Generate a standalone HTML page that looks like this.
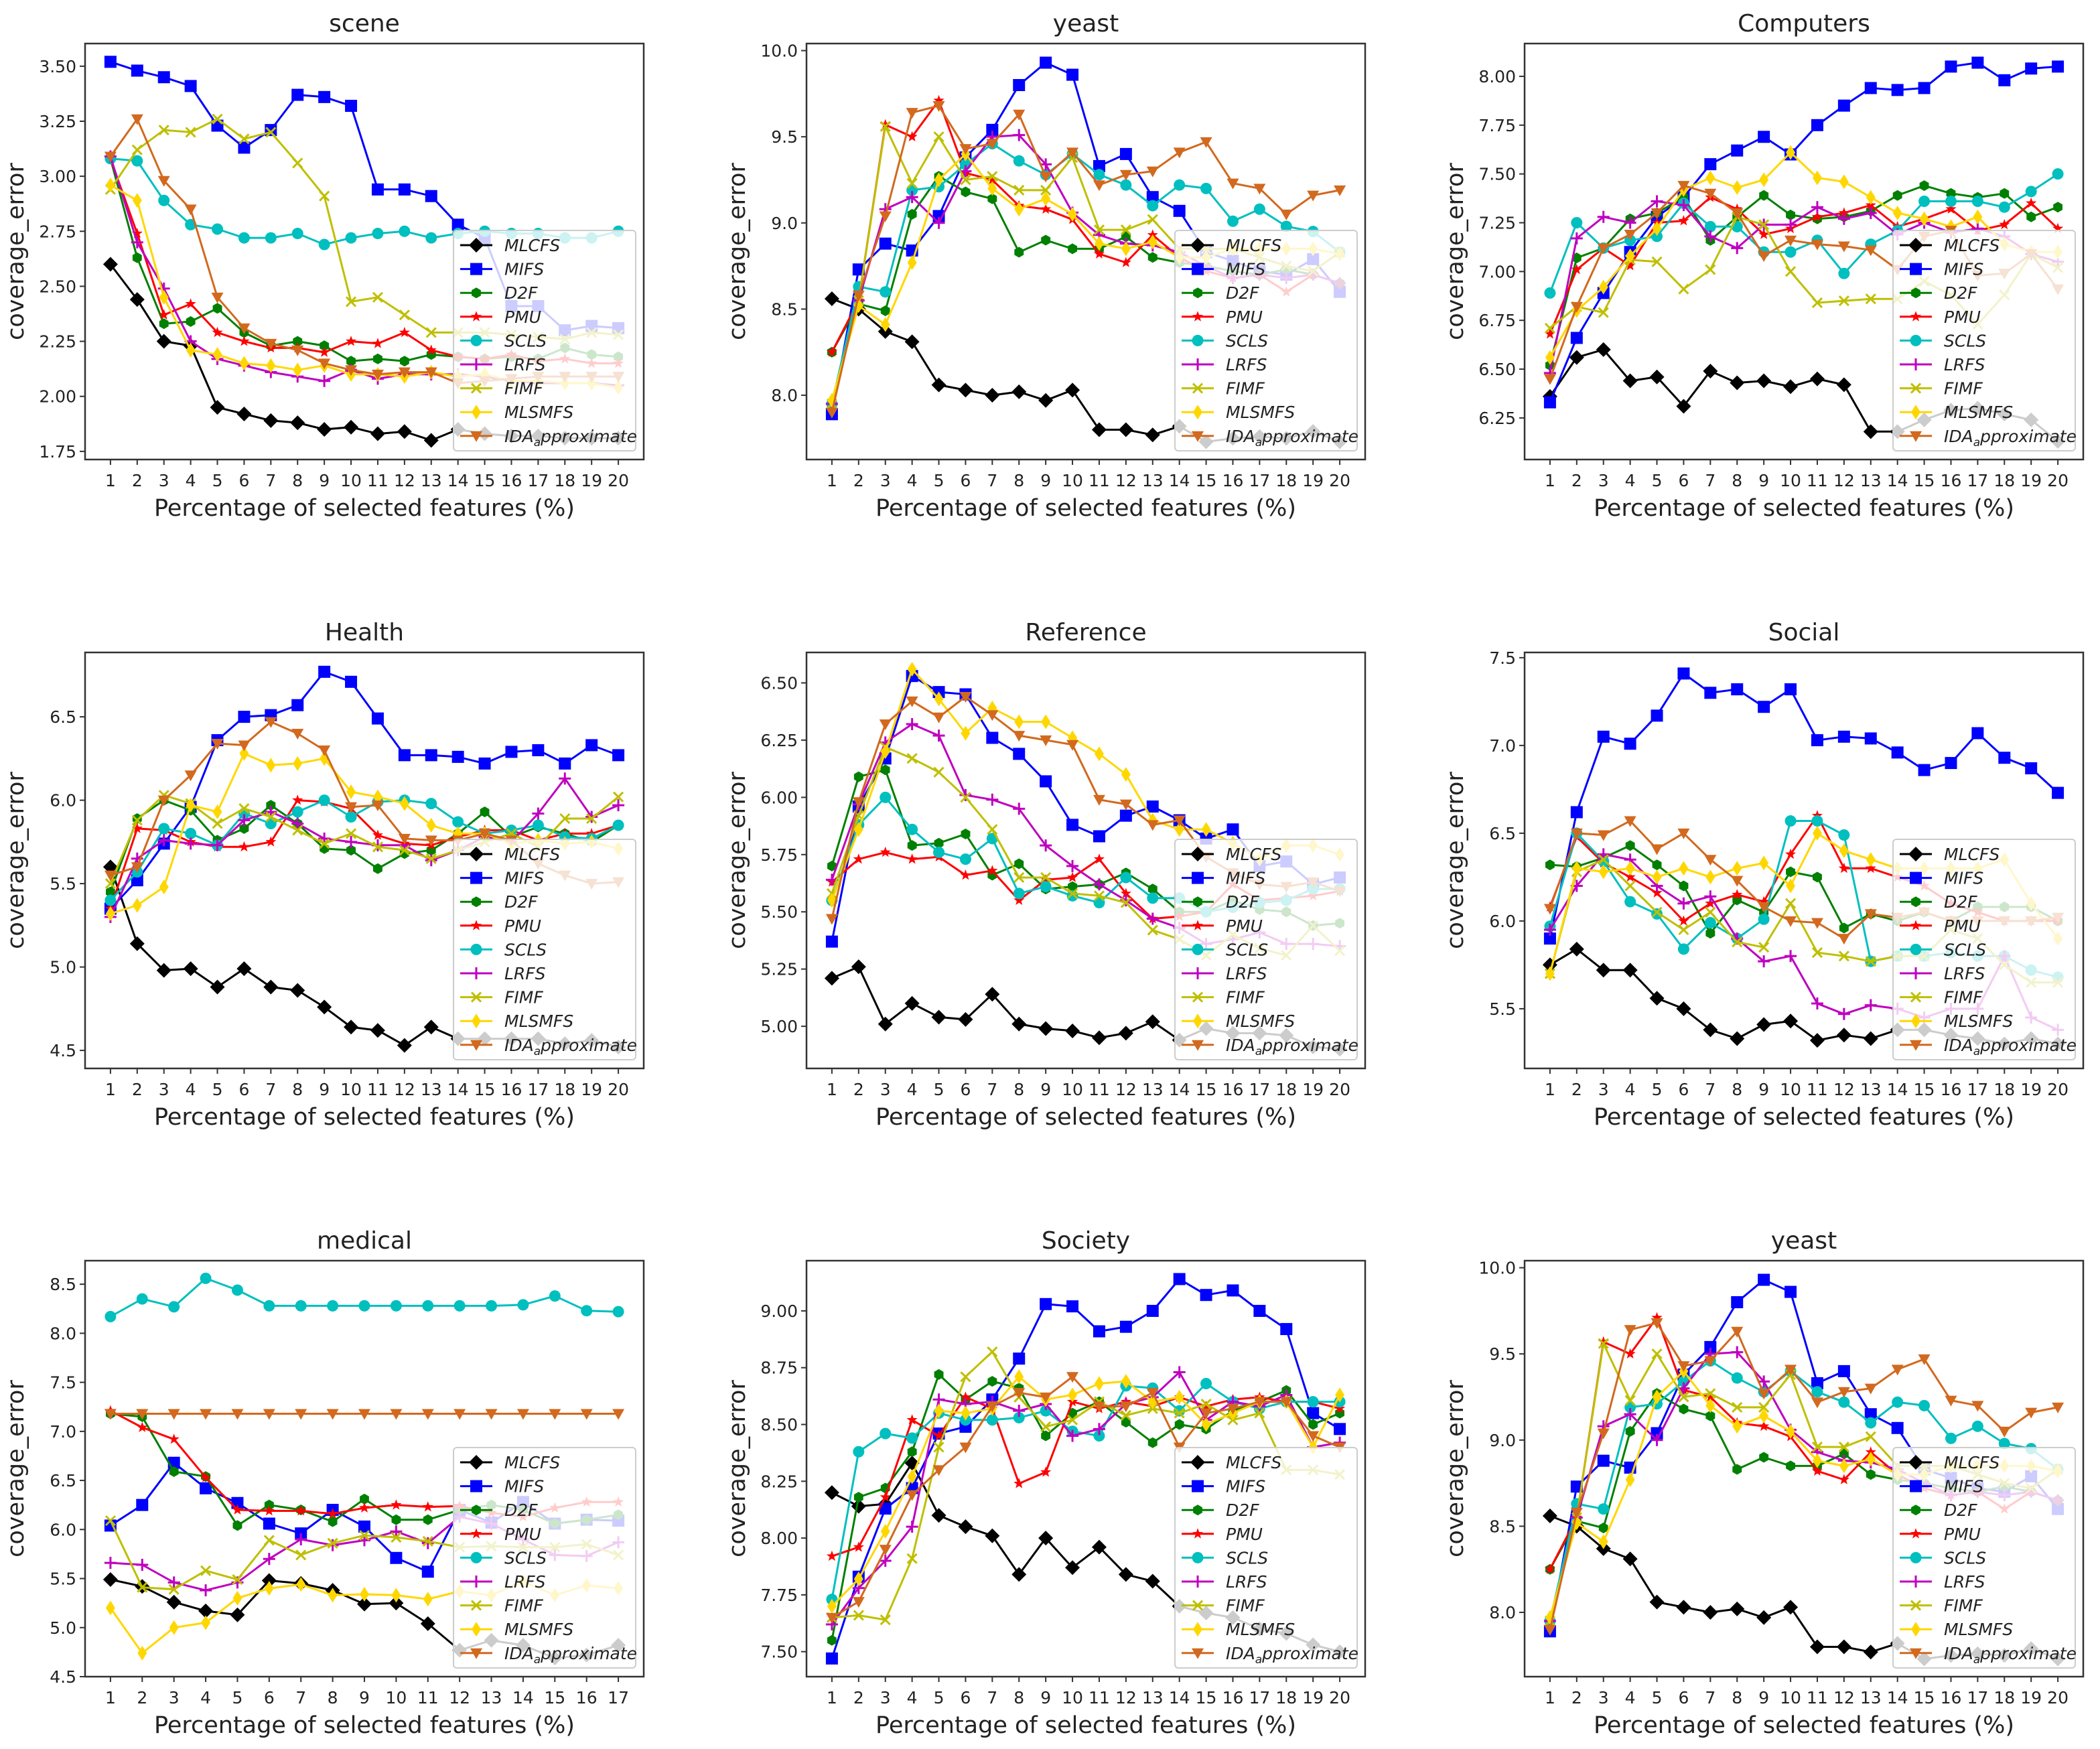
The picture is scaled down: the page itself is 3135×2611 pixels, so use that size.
<!DOCTYPE html>
<html><head><meta charset="utf-8"><title>coverage_error charts</title>
<style>html,body{margin:0;padding:0;background:#fff}svg{display:block}text{font-family:"DejaVu Sans","Liberation Sans",sans-serif;fill:#222}</style>
</head><body>
<svg id="fig" xmlns="http://www.w3.org/2000/svg" width="3135" height="2611" viewBox="0 0 3135 2611"></svg>
<script>
const xCats20 = [1,2,3,4,5,6,7,8,9,10,11,12,13,14,15,16,17,18,19,20];
const xCats17 = [1,2,3,4,5,6,7,8,9,10,11,12,13,14,15,16,17];
const seriesNames = ['MLCFS','MIFS','D2F','PMU','SCLS','LRFS','FIMF','MLSMFS','IDA_approximate'];

const sceneTicks = ['1.75','2.00','2.25','2.50','2.75','3.00','3.25','3.50'];
const yeastTicks = ['8.0','8.5','9.0','9.5','10.0'];
const computersTicks = ['6.25','6.50','6.75','7.00','7.25','7.50','7.75','8.00'];
const healthTicks = ['4.5','5.0','5.5','6.0','6.5'];
const referenceTicks = ['5.00','5.25','5.50','5.75','6.00','6.25','6.50'];
const socialTicks = ['5.5','6.0','6.5','7.0','7.5'];
const medicalTicks = ['4.5','5.0','5.5','6.0','6.5','7.0','7.5','8.0','8.5'];
const societyTicks = ['7.50','7.75','8.00','8.25','8.50','8.75','9.00'];

const sceneData = [
[2.60,2.44,2.25,2.23,1.95,1.92,1.89,1.88,1.85,1.86,1.83,1.84,1.80,1.85,1.83,1.82,1.82,1.81,1.81,1.81],
[3.52,3.48,3.45,3.41,3.23,3.13,3.21,3.37,3.36,3.32,2.94,2.94,2.91,2.78,2.72,2.41,2.41,2.30,2.32,2.31],
[3.08,2.63,2.33,2.34,2.40,2.29,2.23,2.25,2.23,2.16,2.17,2.16,2.19,2.18,2.17,2.18,2.17,2.22,2.19,2.18],
[3.08,2.74,2.37,2.42,2.29,2.25,2.22,2.22,2.20,2.25,2.24,2.29,2.21,2.18,2.17,2.19,2.16,2.17,2.15,2.15],
[3.08,3.07,2.89,2.78,2.76,2.72,2.72,2.74,2.69,2.72,2.74,2.75,2.72,2.74,2.75,2.74,2.74,2.72,2.72,2.75],
[3.09,2.70,2.49,2.25,2.17,2.14,2.11,2.09,2.07,2.12,2.08,2.10,2.10,2.10,2.09,2.07,2.06,2.06,2.06,2.05],
[2.94,3.12,3.21,3.20,3.26,3.17,3.20,3.06,2.91,2.43,2.45,2.37,2.29,2.29,2.29,2.28,2.27,2.26,2.29,2.28],
[2.96,2.89,2.45,2.21,2.19,2.15,2.14,2.12,2.14,2.10,2.10,2.09,2.11,2.09,2.10,2.07,2.07,2.06,2.06,2.04],
[3.09,3.26,2.98,2.85,2.45,2.31,2.24,2.21,2.15,2.12,2.10,2.11,2.11,2.06,2.07,2.08,2.09,2.09,2.09,2.09]];

const yeastData = [
[8.56,8.50,8.37,8.31,8.06,8.03,8.00,8.02,7.97,8.03,7.80,7.80,7.77,7.82,7.73,7.75,7.76,7.75,7.79,7.73],
[7.89,8.73,8.88,8.84,9.04,9.38,9.54,9.80,9.93,9.86,9.33,9.40,9.15,9.07,8.83,8.78,8.72,8.70,8.79,8.60],
[8.25,8.53,8.49,9.05,9.27,9.18,9.14,8.83,8.90,8.85,8.85,8.92,8.80,8.77,8.75,8.72,8.70,8.73,8.70,8.65],
[8.25,8.55,9.57,9.50,9.71,9.29,9.25,9.10,9.08,9.02,8.82,8.77,8.93,8.80,8.72,8.68,8.70,8.60,8.70,8.65],
[7.95,8.63,8.60,9.19,9.21,9.34,9.46,9.36,9.28,9.40,9.28,9.22,9.10,9.22,9.20,9.01,9.08,8.98,8.95,8.83],
[7.95,8.55,9.08,9.15,9.00,9.30,9.50,9.51,9.34,9.06,8.93,8.88,8.87,8.83,8.75,8.68,8.70,8.68,8.70,8.65],
[7.95,8.55,9.56,9.23,9.50,9.25,9.27,9.19,9.19,9.38,8.96,8.96,9.02,8.85,8.85,8.85,8.80,8.75,8.72,8.83],
[7.97,8.52,8.41,8.77,9.25,9.40,9.20,9.08,9.14,9.05,8.88,8.85,8.89,8.80,8.80,8.85,8.85,8.85,8.85,8.82],
[7.90,8.58,9.04,9.64,9.68,9.43,9.46,9.63,9.27,9.41,9.22,9.28,9.30,9.41,9.47,9.23,9.20,9.05,9.16,9.19]];

const computersData = [
[6.36,6.56,6.60,6.44,6.46,6.31,6.49,6.43,6.44,6.41,6.45,6.42,6.18,6.18,6.24,6.29,6.30,6.27,6.24,6.13],
[6.33,6.66,6.89,7.10,7.28,7.38,7.55,7.62,7.69,7.60,7.75,7.85,7.94,7.93,7.94,8.05,8.07,7.98,8.04,8.05],
[6.52,7.07,7.12,7.27,7.30,7.38,7.16,7.28,7.39,7.29,7.27,7.28,7.31,7.39,7.44,7.40,7.38,7.40,7.28,7.33],
[6.68,7.01,7.12,7.03,7.25,7.26,7.38,7.32,7.19,7.22,7.28,7.30,7.34,7.23,7.27,7.32,7.21,7.24,7.35,7.22],
[6.89,7.25,7.12,7.16,7.18,7.35,7.23,7.23,7.10,7.10,7.16,6.99,7.14,7.21,7.36,7.36,7.36,7.33,7.41,7.50],
[6.48,7.17,7.28,7.25,7.36,7.34,7.18,7.12,7.24,7.24,7.33,7.27,7.30,7.19,7.25,7.20,7.22,7.18,7.09,7.05],
[6.71,6.82,6.79,7.06,7.05,6.91,7.01,7.28,7.24,7.00,6.84,6.85,6.86,6.86,6.95,6.88,6.73,6.88,7.09,7.02],
[6.56,6.80,6.92,7.08,7.22,7.42,7.48,7.43,7.47,7.61,7.48,7.46,7.38,7.30,7.27,7.23,7.28,7.14,7.10,7.10],
[6.45,6.82,7.12,7.19,7.30,7.44,7.40,7.30,7.08,7.16,7.14,7.13,7.11,7.01,7.18,7.21,6.98,6.99,7.09,6.91]];

const healthData = [
[5.60,5.14,4.98,4.99,4.88,4.99,4.88,4.86,4.76,4.64,4.62,4.53,4.64,4.57,4.57,4.57,4.57,4.54,4.56,4.52],
[5.35,5.52,5.74,5.96,6.36,6.50,6.51,6.57,6.77,6.71,6.49,6.27,6.27,6.26,6.22,6.29,6.30,6.22,6.33,6.27],
[5.45,5.89,6.00,5.94,5.76,5.83,5.97,5.86,5.71,5.70,5.59,5.68,5.70,5.80,5.93,5.78,5.84,5.80,5.75,5.85],
[5.35,5.83,5.82,5.75,5.72,5.72,5.75,6.00,5.99,5.95,5.79,5.74,5.73,5.78,5.82,5.82,5.76,5.80,5.80,5.85],
[5.40,5.57,5.83,5.80,5.73,5.92,5.86,5.93,6.00,5.90,5.99,6.00,5.98,5.87,5.80,5.82,5.85,5.78,5.77,5.85],
[5.30,5.65,5.76,5.74,5.73,5.88,5.93,5.86,5.77,5.75,5.73,5.73,5.64,5.70,5.78,5.75,5.92,6.13,5.90,5.97],
[5.50,5.88,6.03,5.98,5.86,5.95,5.90,5.82,5.74,5.80,5.72,5.70,5.65,5.70,5.75,5.80,5.72,5.89,5.89,6.02],
[5.32,5.37,5.48,5.97,5.93,6.28,6.21,6.22,6.25,6.05,6.02,5.98,5.85,5.80,5.80,5.74,5.76,5.74,5.75,5.71],
[5.55,5.60,6.00,6.15,6.34,6.33,6.47,6.40,6.30,5.96,5.97,5.77,5.76,5.76,5.80,5.76,5.62,5.55,5.50,5.51]];

const referenceData = [
[5.21,5.26,5.01,5.10,5.04,5.03,5.14,5.01,4.99,4.98,4.95,4.97,5.02,4.94,4.99,4.97,4.97,4.96,4.91,4.90],
[5.37,5.96,6.17,6.53,6.46,6.45,6.26,6.19,6.07,5.88,5.83,5.92,5.96,5.90,5.82,5.86,5.70,5.72,5.62,5.65],
[5.70,6.09,6.12,5.79,5.80,5.84,5.66,5.71,5.60,5.61,5.62,5.67,5.60,5.50,5.50,5.55,5.51,5.50,5.44,5.45],
[5.63,5.73,5.76,5.73,5.74,5.66,5.68,5.55,5.64,5.65,5.73,5.58,5.47,5.48,5.50,5.62,5.55,5.56,5.57,5.59],
[5.55,5.88,6.00,5.86,5.76,5.73,5.82,5.58,5.61,5.57,5.54,5.65,5.56,5.56,5.50,5.52,5.54,5.55,5.60,5.60],
[5.64,5.97,6.24,6.32,6.27,6.01,5.99,5.95,5.79,5.70,5.62,5.55,5.47,5.43,5.36,5.38,5.41,5.36,5.36,5.35],
[5.58,5.92,6.22,6.17,6.11,6.00,5.86,5.65,5.65,5.58,5.57,5.54,5.42,5.38,5.31,5.40,5.34,5.31,5.44,5.33],
[5.55,5.86,6.20,6.56,6.43,6.28,6.39,6.33,6.33,6.26,6.19,6.10,5.90,5.86,5.86,5.80,5.73,5.79,5.79,5.75],
[5.47,5.98,6.32,6.42,6.35,6.44,6.36,6.27,6.25,6.23,5.99,5.97,5.88,5.90,5.74,5.67,5.62,5.61,5.63,5.59]];

const socialData = [
[5.75,5.84,5.72,5.72,5.56,5.50,5.38,5.33,5.41,5.43,5.32,5.35,5.33,5.38,5.38,5.35,5.33,5.30,5.33,5.30],
[5.90,6.62,7.05,7.01,7.17,7.41,7.30,7.32,7.22,7.32,7.03,7.05,7.04,6.96,6.86,6.90,7.07,6.93,6.87,6.73],
[6.32,6.31,6.36,6.43,6.32,6.20,5.93,6.12,6.05,6.28,6.25,5.96,6.04,6.00,6.05,6.00,6.08,6.08,6.08,6.00],
[6.08,6.48,6.33,6.25,6.16,6.00,6.10,6.15,6.11,6.38,6.60,6.30,6.30,6.25,6.20,6.10,6.05,6.00,6.00,6.00],
[5.97,6.50,6.34,6.11,6.04,5.84,5.99,5.90,6.01,6.57,6.57,6.49,5.77,5.80,5.80,5.82,5.80,5.80,5.72,5.68],
[5.95,6.20,6.38,6.35,6.20,6.10,6.14,5.90,5.77,5.80,5.53,5.47,5.52,5.50,5.45,5.50,5.50,5.80,5.45,5.38],
[5.70,6.28,6.35,6.20,6.05,5.95,6.05,5.88,5.85,6.10,5.82,5.80,5.77,5.80,5.80,5.95,5.90,5.75,5.65,5.65],
[5.70,6.30,6.28,6.30,6.25,6.30,6.25,6.30,6.33,6.20,6.50,6.40,6.35,6.30,6.30,6.30,6.30,6.35,6.10,5.90],
[6.07,6.50,6.49,6.57,6.41,6.50,6.35,6.23,6.08,6.00,5.99,5.90,6.04,6.02,6.05,6.00,6.00,6.00,6.00,6.02]];

const medicalData = [
[5.49,5.42,5.26,5.17,5.13,5.48,5.45,5.38,5.24,5.25,5.04,4.77,4.87,4.82,4.69,4.72,4.82],
[6.04,6.25,6.68,6.42,6.27,6.06,5.96,6.20,6.03,5.71,5.57,6.20,6.07,6.28,6.06,6.10,6.09],
[7.18,7.15,6.59,6.54,6.04,6.25,6.20,6.08,6.31,6.10,6.10,6.20,6.25,6.20,6.06,6.10,6.15],
[7.21,7.04,6.92,6.53,6.20,6.19,6.19,6.16,6.22,6.25,6.23,6.24,6.17,6.13,6.22,6.28,6.28],
[8.17,8.35,8.27,8.56,8.44,8.28,8.28,8.28,8.28,8.28,8.28,8.28,8.28,8.29,8.38,8.23,8.22],
[5.66,5.64,5.46,5.38,5.46,5.70,5.90,5.84,5.89,5.98,5.86,6.13,6.06,5.90,5.74,5.73,5.87],
[6.09,5.41,5.39,5.58,5.49,5.89,5.74,5.86,5.94,5.92,5.88,5.82,5.83,5.82,5.82,5.85,5.74],
[5.20,4.74,5.00,5.05,5.30,5.40,5.44,5.33,5.34,5.33,5.29,5.37,5.33,5.47,5.33,5.43,5.40],
[7.18,7.18,7.18,7.18,7.18,7.18,7.18,7.18,7.18,7.18,7.18,7.18,7.18,7.18,7.18,7.18,7.18]];

const societyData = [
[8.20,8.14,8.15,8.33,8.10,8.05,8.01,7.84,8.00,7.87,7.96,7.84,7.81,7.70,7.67,7.65,7.60,7.58,7.53,7.50],
[7.47,7.83,8.13,8.22,8.46,8.49,8.61,8.79,9.03,9.02,8.91,8.93,9.00,9.14,9.07,9.09,9.00,8.92,8.55,8.48],
[7.55,8.18,8.22,8.38,8.72,8.61,8.69,8.66,8.45,8.55,8.60,8.51,8.42,8.50,8.48,8.56,8.60,8.65,8.50,8.55],
[7.92,7.96,8.18,8.52,8.45,8.62,8.57,8.24,8.29,8.60,8.57,8.60,8.58,8.62,8.58,8.61,8.62,8.60,8.60,8.57],
[7.73,8.38,8.46,8.44,8.55,8.52,8.52,8.53,8.56,8.47,8.45,8.67,8.66,8.56,8.68,8.60,8.57,8.60,8.60,8.60],
[7.62,7.78,7.90,8.05,8.61,8.59,8.60,8.56,8.59,8.45,8.48,8.59,8.62,8.73,8.52,8.60,8.58,8.63,8.40,8.42],
[7.65,7.66,7.64,7.91,8.40,8.71,8.82,8.62,8.49,8.52,8.60,8.54,8.57,8.55,8.59,8.52,8.55,8.30,8.30,8.28],
[7.70,7.82,8.03,8.27,8.56,8.55,8.57,8.71,8.61,8.63,8.68,8.69,8.60,8.62,8.50,8.55,8.60,8.60,8.40,8.63],
[7.65,7.72,7.95,8.19,8.30,8.40,8.58,8.64,8.62,8.71,8.58,8.58,8.64,8.40,8.55,8.57,8.60,8.60,8.45,8.40]];

const NS = 'http://www.w3.org/2000/svg';
const svg = document.getElementById('fig');
const colors = ['#000000','#0000ff','#008000','#ff0000','#00bfbf','#bf00bf','#bfbf00','#ffd700','#d2691e'];
const markers = ['D','s','h','*','o','+','x','d','v'];
const colLeft = [127, 1204, 2276], rowTop = [65, 974, 1882], W = 834, H = 621;

const panels = [
 {title:'scene', data:sceneData, xs:xCats20, ylim:[1.713,3.603], ticks:sceneTicks, c:0, r:0},
 {title:'yeast', data:yeastData, xs:xCats20, ylim:[7.627,10.041], ticks:yeastTicks, c:1, r:0},
 {title:'Computers', data:computersData, xs:xCats20, ylim:[6.037,8.168], ticks:computersTicks, c:2, r:0},
 {title:'Health', data:healthData, xs:xCats20, ylim:[4.392,6.886], ticks:healthTicks, c:0, r:1},
 {title:'Reference', data:referenceData, xs:xCats20, ylim:[4.816,6.633], ticks:referenceTicks, c:1, r:1},
 {title:'Social', data:socialData, xs:xCats20, ylim:[5.16,7.53], ticks:socialTicks, c:2, r:1},
 {title:'medical', data:medicalData, xs:xCats17, ylim:[4.5,8.74], ticks:medicalTicks, c:0, r:2},
 {title:'Society', data:societyData, xs:xCats20, ylim:[7.39,9.221], ticks:societyTicks, c:1, r:2},
 {title:'yeast', data:yeastData, xs:xCats20, ylim:[7.627,10.041], ticks:yeastTicks, c:2, r:2}
];

function el(tag, attrs, parent){ const e=document.createElementNS(NS,tag); for(const k in attrs) e.setAttribute(k,attrs[k]); (parent||svg).appendChild(e); return e; }

function marker(g, type, x, y, color){
  let m;
  if(type==='D'){ const s=11; m=el('polygon',{points:`${x},${y-s} ${x+s},${y} ${x},${y+s} ${x-s},${y}`,fill:color},g); }
  else if(type==='d'){ const s=11, w=7; m=el('polygon',{points:`${x},${y-s} ${x+w},${y} ${x},${y+s} ${x-w},${y}`,fill:color},g); }
  else if(type==='s'){ m=el('rect',{x:x-9,y:y-9,width:18,height:18,fill:color},g); }
  else if(type==='o'){ m=el('circle',{cx:x,cy:y,r:8.5,fill:color},g); }
  else if(type==='h'){ let p=[]; for(let i=0;i<6;i++){const a=Math.PI/6+i*Math.PI/3; p.push((x+8*Math.cos(a)).toFixed(1)+','+(y+8*Math.sin(a)).toFixed(1));} m=el('polygon',{points:p.join(' '),fill:color},g); }
  else if(type==='*'){ let p=[]; for(let i=0;i<10;i++){const a=-Math.PI/2+i*Math.PI/5; const rr=i%2?3.5:8.5; p.push((x+rr*Math.cos(a)).toFixed(1)+','+(y+rr*Math.sin(a)).toFixed(1));} m=el('polygon',{points:p.join(' '),fill:color},g); }
  else if(type==='v'){ m=el('polygon',{points:`${x-9},${y-7} ${x+9},${y-7} ${x},${y+9}`,fill:color},g); }
  else if(type==='+'){ m=el('path',{d:`M${x-9},${y}H${x+9}M${x},${y-9}V${y+9}`,stroke:color,'stroke-width':3,fill:'none'},g); }
  else if(type==='x'){ m=el('path',{d:`M${x-7},${y-7}L${x+7},${y+7}M${x-7},${y+7}L${x+7},${y-7}`,stroke:color,'stroke-width':3,fill:'none'},g); }
  return m;
}

panels.forEach((p, pi) => {
  const L = colLeft[p.c], T = rowTop[p.r];
  const g = el('g', {});
  
  
  const n = p.xs.length, xmin = p.xs[0], xmax = p.xs[n-1], pad = (xmax - xmin) * 0.05;
  const xS = v => L + (v - (xmin - pad)) / ((xmax + pad) - (xmin - pad)) * W;
  const yS = v => T + H - (v - p.ylim[0]) / (p.ylim[1] - p.ylim[0]) * H;

  const title = el('text', {x: L + W/2, y: T - 18, 'text-anchor':'middle', 'font-size':36}, g);
  title.textContent = p.title;
  
  

  p.data.forEach((vals, si) => {
    const sg = el('g', {}, g);
    
    
    const pts = vals.map((v, i) => xS(p.xs[i]).toFixed(1) + ',' + yS(v).toFixed(1)).join(' ');
    const line = el('polyline', {points: pts, fill:'none', stroke: colors[si], 'stroke-width': 3, 'stroke-linejoin':'round'}, sg);
    
    
    vals.forEach((v, i) => {
      const m = marker(sg, markers[si], xS(p.xs[i]), yS(v), colors[si]);
      
      
    });
  });

  const frame = el('rect', {x:L, y:T, width:W, height:H, fill:'none', stroke:'#333', 'stroke-width':2.5}, g);
  
  

  p.xs.forEach(v => {
    const x = xS(v);
    el('line', {x1:x, y1:T+H, x2:x, y2:T+H+8, stroke:'#333', 'stroke-width':2}, g);
    const t = el('text', {x:x, y:T+H+40, 'text-anchor':'middle', 'font-size':25}, g);
    t.textContent = v;
    
    
  });
  p.ticks.forEach(lbl => {
    const y = yS(parseFloat(lbl));
    el('line', {x1:L-8, y1:y, x2:L, y2:y, stroke:'#333', 'stroke-width':2}, g);
    const t = el('text', {x:L-13, y:y+9, 'text-anchor':'end', 'font-size':25}, g);
    t.textContent = lbl;
    
    
  });
  const xl = el('text', {x:L + W/2, y:T+H+84, 'text-anchor':'middle', 'font-size':35}, g);
  xl.textContent = 'Percentage of selected features (%)';
  
  
  const yl = el('text', {x:0, y:0, 'text-anchor':'middle', 'font-size':35, transform:`translate(${L-92},${T+H/2}) rotate(-90)`}, g);
  yl.textContent = 'coverage_error';
  
  

  const lg = el('g', {}, g);
  
  
  const lw = 272, lh = 329, lx = L + W - 12 - lw, ly = T + H - 13 - lh;
  el('rect', {x:lx, y:ly, width:lw, height:lh, rx:5, fill:'#fff', 'fill-opacity':0.8, stroke:'#ccc', 'stroke-width':2}, lg);
  seriesNames.forEach((nm, si) => {
    const ey = ly + 22 + si * 35.6;
    const eg = el('g', {}, lg);
    
    
    el('line', {x1:lx+10, y1:ey, x2:lx+58, y2:ey, stroke:colors[si], 'stroke-width':3}, eg);
    marker(eg, markers[si], lx+34, ey, colors[si]);
    const t = el('text', {x:lx+76, y:ey+9, 'font-size':25, 'font-style':'italic'}, eg);
    if (nm === 'IDA_approximate') {
      t.appendChild(document.createTextNode('IDA'));
      const s = el('tspan', {'font-size':17, dy:6}, t); s.textContent = 'a';
      const r = el('tspan', {dy:-6}, t); r.textContent = 'pproximate';
    } else t.textContent = nm;
  });
});
</script>
</body></html>
